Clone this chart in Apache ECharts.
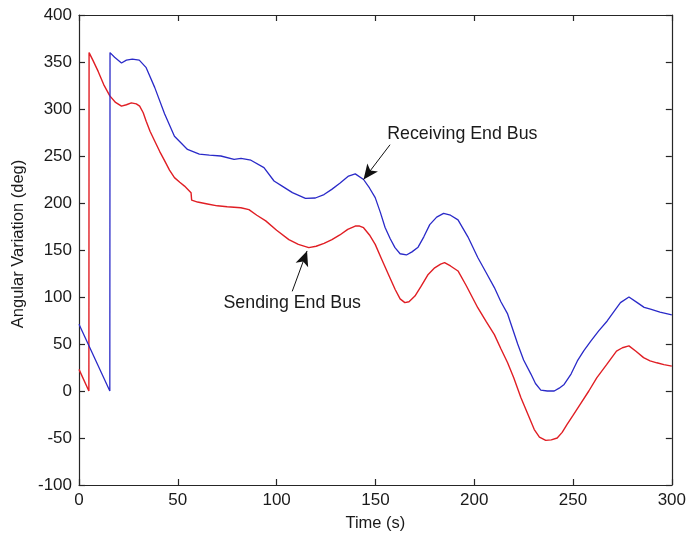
<!DOCTYPE html>
<html>
<head>
<meta charset="utf-8">
<title>Angular Variation</title>
<script src="https://cdn.jsdelivr.net/npm/echarts@6/dist/echarts.min.js"></script>
<style>
  html, body { margin: 0; padding: 0; background: #fff; }
  #chart { width: 689px; height: 537px; }
</style>
</head>
<body>
<div id="chart"></div>
<script>
// Receiving end bus angle, [time (s), angle (deg)]
const receivingEnd = [
  [0, 71], [15.6, 0], [15.7, 360], [18, 355], [21.5, 349], [24, 352], [27, 353],
  [30.5, 352], [34, 344], [38.3, 323], [43.3, 295], [48.3, 271], [54.9, 257],
  [60.9, 252], [66, 251], [71.8, 250], [78.5, 246.5], [82, 247.5], [87, 245.5],
  [93.6, 237.6], [98.7, 223.4], [102.8, 218], [108, 211], [114.6, 205], [119.6, 205.3],
  [124, 209], [127.9, 214.5], [132, 221], [136.4, 228.7], [139.8, 231], [144, 225],
  [147, 216], [149.9, 205.7], [152.5, 190], [154.9, 174], [157.5, 162], [159.9, 152.5],
  [162.5, 146], [165.7, 144.7], [168.5, 148], [171.6, 153], [174.5, 164], [177.5, 177],
  [181, 185], [184.5, 189], [188, 187], [191.8, 182], [196.8, 164], [201.8, 142],
  [206, 126], [210.2, 110], [213.5, 95], [216.9, 82], [222, 50], [225, 33], [228.7, 18],
  [231, 8], [233.7, 1], [237, 0], [240.5, 0], [243, 3], [245.5, 7], [249, 18],
  [252.2, 32], [255.5, 43], [259, 53], [263, 64], [267.3, 74.5], [270.5, 84], [274, 94],
  [278.3, 100], [282.5, 94], [286, 89], [289.2, 87], [294, 84], [300, 81]
];

// Sending end bus angle, [time (s), angle (deg)]
const sendingEnd = [
  [0, 23], [5, 0], [5.1, 360], [7, 352], [9.7, 340], [12.5, 326], [15.6, 314],
  [18.5, 307], [21.5, 303], [24, 304.5], [26.5, 306.5], [29, 305.5], [30.7, 303],
  [32.5, 296], [34, 287], [36, 276], [38.3, 266], [40.8, 255], [43.3, 245], [45.8, 235],
  [48.3, 227], [51, 222], [53.4, 218], [56.7, 211], [57, 203], [60, 201], [65, 199],
  [70, 197], [75, 196], [81.9, 195], [86, 193], [90, 187], [94.5, 181], [100, 171],
  [106.2, 161], [111, 156], [116.3, 152.5], [120, 154], [124, 157], [128, 161],
  [132, 166], [136, 172], [139.8, 175.5], [142, 175.5], [144, 173.7], [147, 166],
  [149.9, 156], [153, 141], [156.6, 124], [160, 108], [162.5, 98], [164.9, 94],
  [167, 95], [170, 101], [173, 111], [176.7, 124], [180, 131], [183, 135], [185, 136.5],
  [188, 133], [191.8, 127.7], [196, 112], [201.8, 88.6], [206, 74], [210.2, 60],
  [213.5, 45], [216.9, 30], [220, 14], [223.6, -7], [227, -24], [230.4, -41], [233, -49],
  [236.2, -52.5], [239, -52], [242, -50], [244.5, -44], [247, -35.5], [250, -26],
  [253.7, -14], [258, 0], [262, 14], [267, 28], [272, 42.5], [275, 46], [278.3, 48],
  [282, 42], [285.7, 35.5], [289, 32], [292.4, 30], [296, 28], [300, 26.5]
];

// Annotation text anchors and arrows, in data coordinates
const receivingLabel = { text: 'Receiving End Bus', at: [194, 273.4] };
const receivingArrow = { from: [157.4, 262], to: [144, 225] };
const sendingLabel = { text: 'Sending End Bus', at: [107.9, 94] };
const sendingArrow = { from: [107.9, 106], to: [115.4, 149] };

const xRange = { min: 0, max: 300, interval: 50 };
const yRange = { min: -100, max: 400, interval: 50 };

const FONT = 'Liberation Sans, Arial, sans-serif';
const FONT_SIZE = 17;
const NOTE_SIZE = 17.8;
const NAME_SIZE = 16.5;
const TEXT_COLOR = '#1a1a1a';
const AXIS_COLOR = '#262626';

function axisCommon(showLabels) {
  return {
    type: 'value',
    axisLine: { show: true, onZero: false, lineStyle: { color: AXIS_COLOR, width: 1.2 } },
    axisTick: { show: true, inside: true, length: 6, lineStyle: { color: AXIS_COLOR, width: 1.2 } },
    axisLabel: { show: showLabels, color: TEXT_COLOR, fontFamily: FONT, fontSize: FONT_SIZE },
    splitLine: { show: false },
    minorTick: { show: false }
  };
}

function annotation(label, arrow) {
  return {
    markLine: {
      silent: true,
      symbol: ['none', 'arrow'],
      symbolSize: [10, 15],
      lineStyle: { color: '#111', width: 1, type: 'solid' },
      label: { show: false },
      emphasis: { disabled: true },
      data: [[{ coord: arrow.from }, { coord: arrow.to }]]
    },
    markPoint: {
      silent: true,
      symbol: 'circle',
      symbolSize: 1,
      itemStyle: { color: 'rgba(0,0,0,0)' },
      label: {
        show: true,
        position: 'inside',
        formatter: label.text,
        color: TEXT_COLOR,
        fontFamily: FONT,
        fontSize: NOTE_SIZE
      },
      emphasis: { disabled: true },
      data: [{ coord: label.at }]
    }
  };
}

const chart = echarts.init(document.getElementById('chart'), null, { renderer: 'canvas' });

chart.setOption({
  animation: false,
  backgroundColor: '#fff',
  grid: { left: 79, top: 15, right: 14, bottom: 52, containLabel: false },
  xAxis: [
    Object.assign(axisCommon(true), {
      position: 'bottom', min: xRange.min, max: xRange.max, interval: xRange.interval,
      name: 'Time (s)', nameLocation: 'middle', nameGap: 30,
      nameTextStyle: { color: TEXT_COLOR, fontFamily: FONT, fontSize: NAME_SIZE },
      axisLabel: { show: true, margin: 7, color: TEXT_COLOR, fontFamily: FONT, fontSize: FONT_SIZE }
    }),
    Object.assign(axisCommon(false), {
      position: 'top', min: xRange.min, max: xRange.max, interval: xRange.interval
    })
  ],
  yAxis: [
    Object.assign(axisCommon(true), {
      position: 'left', min: yRange.min, max: yRange.max, interval: yRange.interval,
      name: 'Angular Variation (deg)', nameLocation: 'middle', nameGap: 52,
      nameTextStyle: { color: TEXT_COLOR, fontFamily: FONT, fontSize: NAME_SIZE, padding: [0, 0, 0, 12] },
      axisLabel: { show: true, margin: 7, color: TEXT_COLOR, fontFamily: FONT, fontSize: FONT_SIZE }
    }),
    Object.assign(axisCommon(false), {
      position: 'right', min: yRange.min, max: yRange.max, interval: yRange.interval
    })
  ],
  series: [
    Object.assign({
      name: 'Receiving End Bus',
      type: 'line',
      xAxisIndex: 0,
      yAxisIndex: 0,
      data: receivingEnd,
      showSymbol: false,
      smooth: false,
      lineStyle: { color: '#2a2ac8', width: 1.3 },
      itemStyle: { color: '#2a2ac8' },
      emphasis: { disabled: true },
      z: 3
    }, annotation(receivingLabel, receivingArrow)),
    Object.assign({
      name: 'Sending End Bus',
      type: 'line',
      xAxisIndex: 0,
      yAxisIndex: 0,
      data: sendingEnd,
      showSymbol: false,
      smooth: false,
      lineStyle: { color: '#e01e24', width: 1.4 },
      itemStyle: { color: '#e01e24' },
      emphasis: { disabled: true },
      z: 2
    }, annotation(sendingLabel, sendingArrow))
  ]
});
</script>
</body>
</html>
